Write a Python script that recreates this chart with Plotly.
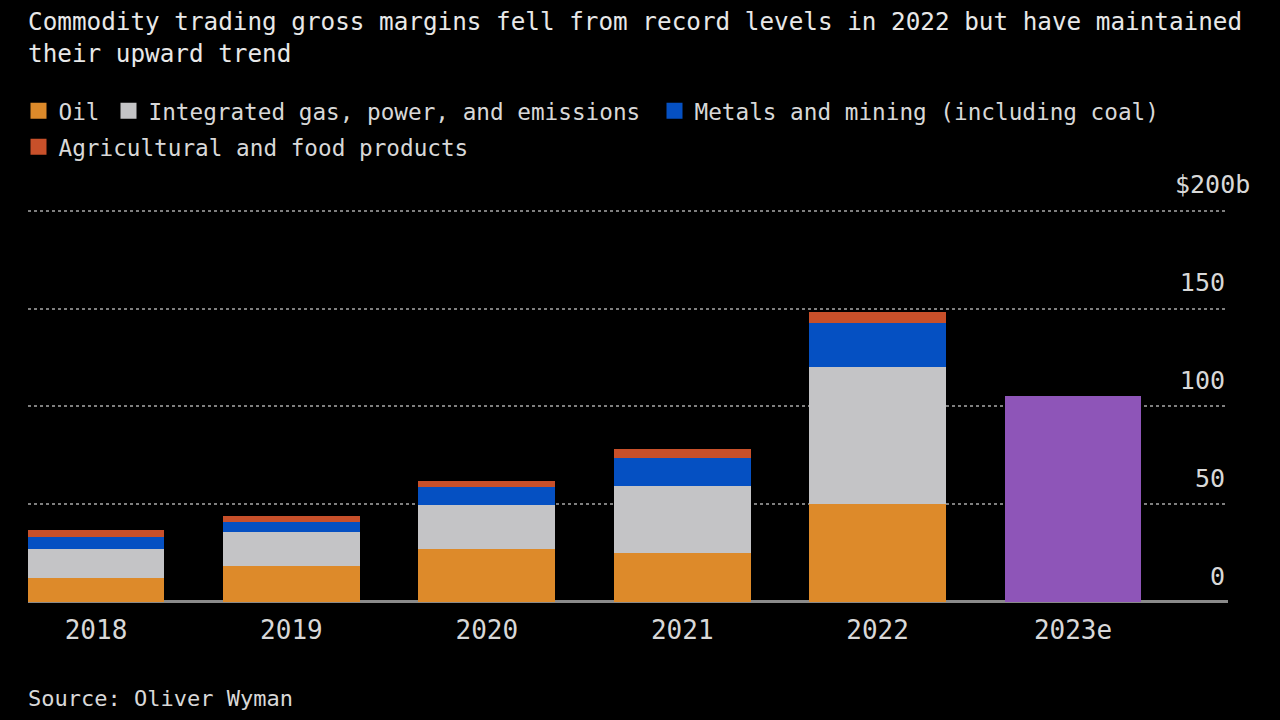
import plotly.graph_objects as go

years = ["2018", "2019", "2020", "2021", "2022", "2023e"]
oil = [12.4, 18.4, 27.1, 24.9, 50.0, None]
gas = [14.6, 17.3, 22.4, 34.4, 70.4, None]
metals = [6.1, 5.4, 9.2, 14.2, 22.2, None]
agri = [3.7, 2.9, 3.3, 4.6, 5.9, None]
total_2023e = [None, None, None, None, None, 105.4]

series_names = ["Oil", "Integrated gas, power, and emissions",
                "Metals and mining (including coal)", "Agricultural and food products"]
series_values = [oil, gas, metals, agri]
colors = ["#dd8a2a", "#c4c4c6", "#0550c2", "#c8502a"]
estimate_color = "#8e55b8"

y_ticks = [0, 50, 100, 150, 200]
y_ticktext = ["0", "50", "100", "150", ""]

FONT = "DejaVu Sans Mono"
TXT = "#d8d8d8"

Y_MIN, Y_MAX = -0.6, 201
PX_PER_UNIT = (602 - 211) / 200
PLOT_BOTTOM = 602 + (0 - Y_MIN) * PX_PER_UNIT
PLOT_TOP = 211 - (Y_MAX - 200) * PX_PER_UNIT
PLOT_LEFT, PLOT_RIGHT = 28, 1228
PH = PLOT_BOTTOM - PLOT_TOP
PW = PLOT_RIGHT - PLOT_LEFT


def py(px):
    return (PLOT_BOTTOM - px) / PH


def pxx(px):
    return (px - PLOT_LEFT) / PW


fig = go.Figure()
for name, vals, col in zip(series_names, series_values, colors):
    fig.add_trace(go.Bar(x=years, y=vals, name=name, marker=dict(color=col, line=dict(width=0)),
                         width=0.70, showlegend=False))
fig.add_trace(go.Bar(x=years, y=total_2023e, name="2023e", marker=dict(color=estimate_color, line=dict(width=0)),
                     width=0.70, showlegend=False))

# legend entries (square swatches), each in its own legend box
legend_ids = ["legend", "legend2", "legend3", "legend4"]
legend_pos = [(18.5, 111), (108.5, 111), (654.5, 111), (18.5, 147)]
for name, col, lid in zip(series_names, colors, legend_ids):
    fig.add_trace(go.Scatter(x=[None], y=[None], mode="markers", name=name,
                             marker=dict(symbol="square", size=17, color=col),
                             legend=lid))

legend_layouts = {}
for lid, (lx, ly) in zip(legend_ids, legend_pos):
    legend_layouts[lid] = dict(orientation="h", bgcolor="rgba(0,0,0,0)",
                               font=dict(family=FONT, size=22.7, color=TXT),
                               xref="container", yref="container", xanchor="left", yanchor="middle",
                               x=lx / 1280, y=1 - ly / 720, itemwidth=30)

fig.update_layout(
    width=1280, height=720,
    paper_bgcolor="#000000", plot_bgcolor="#000000",
    barmode="stack",
    margin=dict(l=PLOT_LEFT, r=1280 - PLOT_RIGHT, t=PLOT_TOP, b=720 - PLOT_BOTTOM, pad=0),
    **legend_layouts,
    xaxis=dict(type="category", range=[-0.348, 5.793], showgrid=False, showline=False,
               ticks="", tickfont=dict(family=FONT, size=26, color=TXT), ticklabelstandoff=9),
    yaxis=dict(range=[Y_MIN, Y_MAX], side="right", tickvals=y_ticks, ticktext=y_ticktext,
               showgrid=True, gridcolor="#7f7f7f", gridwidth=1.8, griddash="dot",
               zeroline=True, zerolinecolor="#8a8a8a", zerolinewidth=2.5,
               showline=False, ticks="",
               ticklabelposition="inside", ticklabelshift=-26, ticklabelstandoff=0,
               tickfont=dict(family=FONT, size=25, color=TXT)),
    annotations=[
        dict(text="Commodity trading gross margins fell from record levels in 2022 but have maintained<br>their upward trend",
             x=pxx(26), xref="paper", xanchor="left", align="left",
             y=py(5), yref="paper", yanchor="top", showarrow=False,
             font=dict(family=FONT, size=24.3, color="#e8e8e8")),
        dict(text="$200b", x=pxx(1252), xref="paper", xanchor="right",
             y=200, yref="y", yshift=26, yanchor="middle", showarrow=False,
             font=dict(family=FONT, size=25, color=TXT)),
        dict(text="Source: Oliver Wyman", x=pxx(26), xref="paper", xanchor="left",
             y=py(699), yref="paper", yanchor="middle", showarrow=False,
             font=dict(family=FONT, size=22, color=TXT)),
    ],
)

fig.write_html("out.html", config={"displayModeBar": False},
               post_script="document.body.style.margin='0px';document.body.style.overflow='hidden';")
